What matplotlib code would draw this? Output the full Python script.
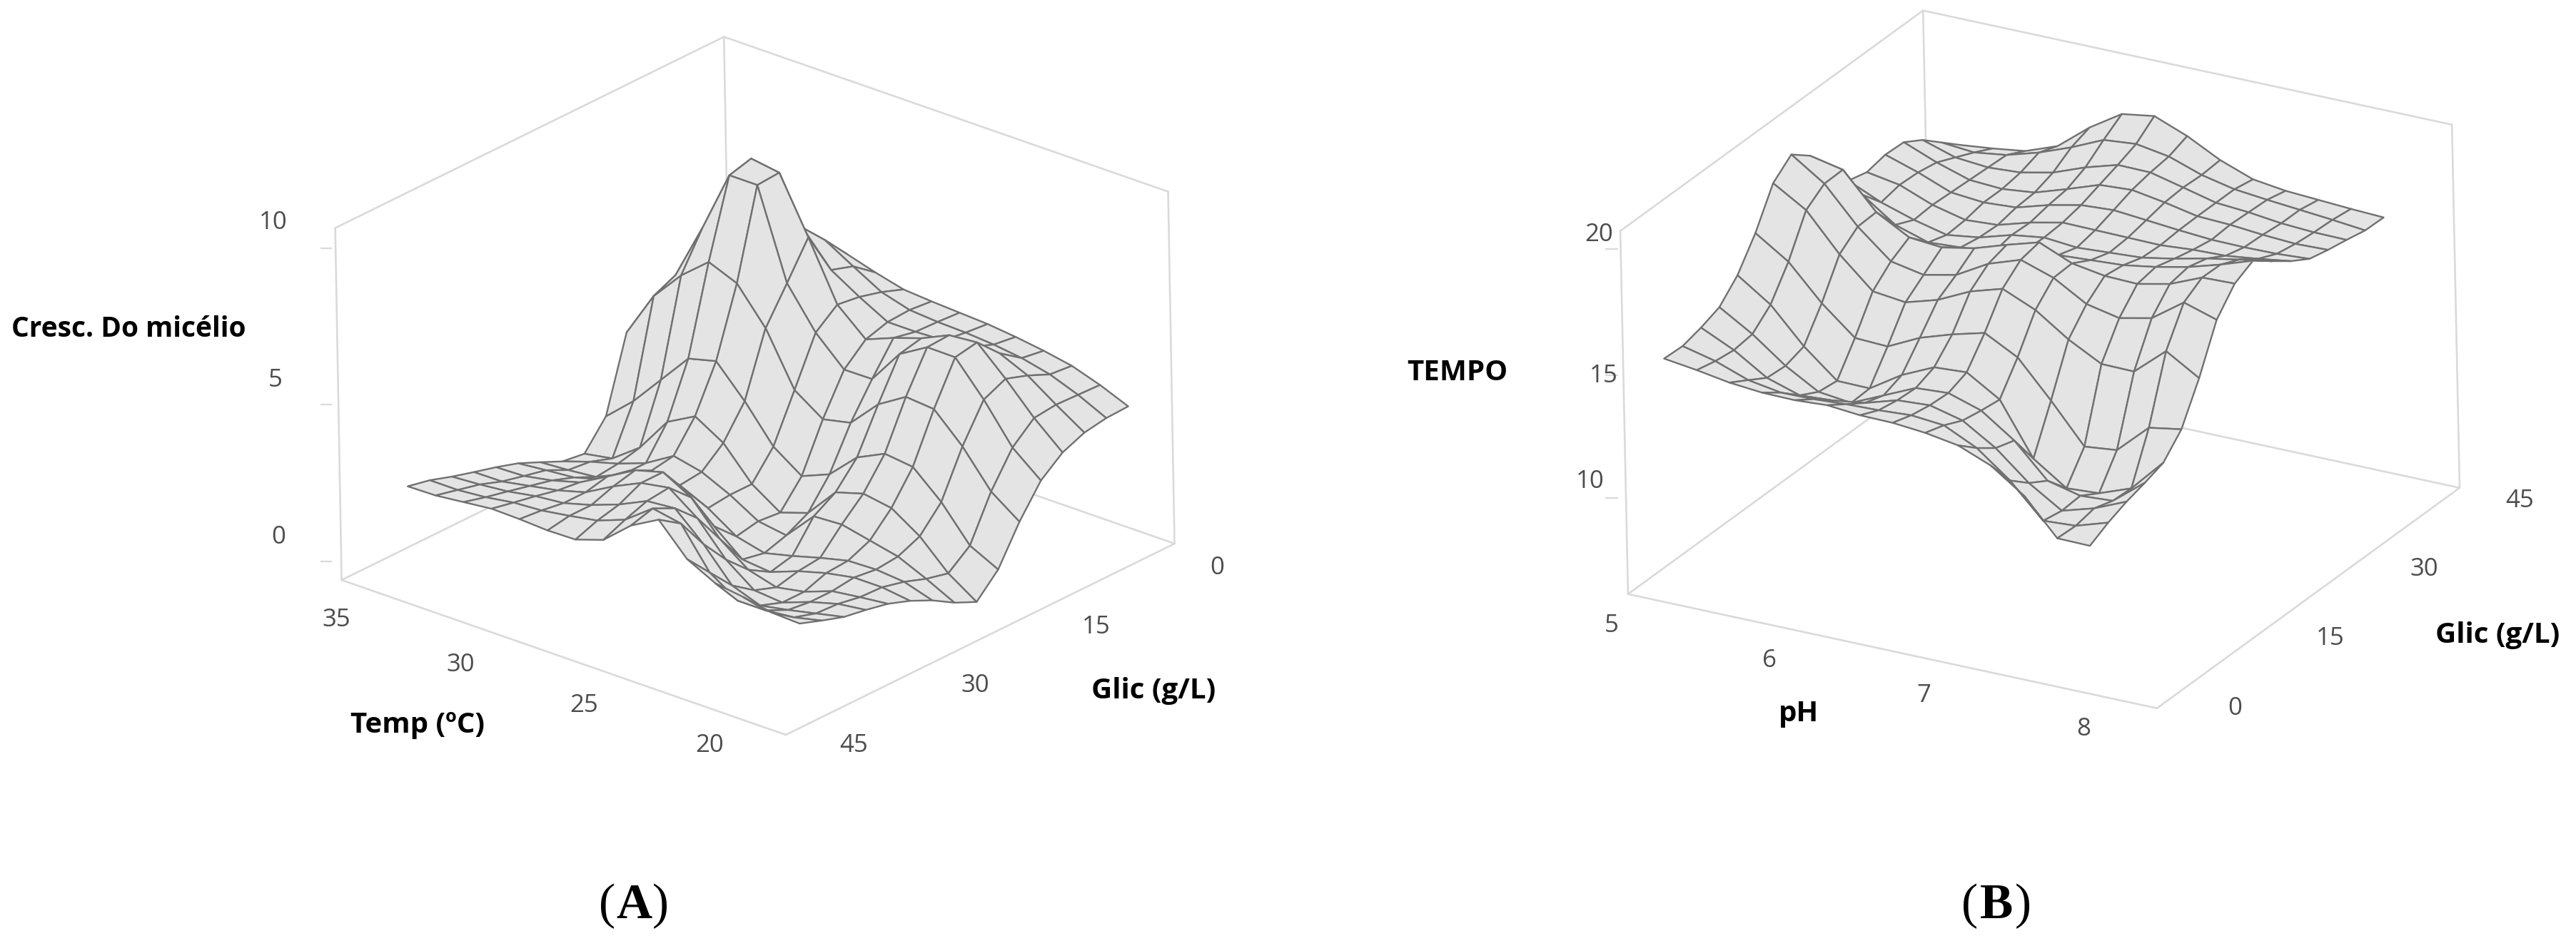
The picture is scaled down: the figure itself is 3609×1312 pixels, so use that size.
import numpy as np
import matplotlib
matplotlib.use("Agg")
import matplotlib.pyplot as plt
from matplotlib.lines import Line2D

FW, FH = 3609, 1312

# ---------- Panel A data: rows = glucose 0..45, columns = temperature 35..20
temp_a = np.linspace(35, 20, 15)
glic_a = np.linspace(0, 45, 16)
z_a = np.array([
 [3.03,3.90,5.41,6.58,6.61,6.34,6.11,6.04,5.99,5.94,5.84,5.71,5.54,5.24,4.87],
 [3.57,4.40,6.07,7.24,7.41,6.88,6.37,6.11,6.04,6.01,5.94,5.82,5.61,5.27,4.84],
 [4.23,5.07,6.58,8.67,8.15,7.11,6.56,6.07,6.07,6.11,6.21,6.32,5.92,5.30,4.72],
 [5.24,6.58,8.25,10.39,10.25,8.50,6.66,5.86,6.22,6.52,6.93,7.01,6.16,5.22,4.43],
 [5.07,6.39,8.21,10.20,10.20,7.38,6.11,5.24,5.25,6.36,6.89,6.88,5.84,4.62,3.88],
 [4.59,6.07,7.04,7.78,7.41,6.29,4.62,4.00,4.20,5.10,5.65,5.57,4.69,3.56,2.91],
 [2.26,3.06,4.05,5.04,5.27,4.30,3.16,2.53,2.90,3.75,4.18,4.07,3.26,2.18,1.73],
 [1.41,1.57,2.23,3.36,3.85,3.31,2.31,1.71,2.01,2.98,3.25,3.10,2.51,1.64,1.04],
 [1.51,1.81,2.06,2.39,2.93,2.73,2.31,1.78,1.64,2.56,2.61,2.41,2.21,1.81,1.36],
 [1.83,1.89,1.98,2.39,2.81,2.65,2.23,1.64,1.42,1.64,1.89,2.11,2.14,2.06,1.78],
 [2.14,2.23,2.31,2.56,3.15,3.40,3.15,2.31,1.56,1.47,1.81,2.06,2.23,2.23,2.11],
 [2.36,2.39,2.56,2.81,3.31,3.82,4.07,3.57,2.56,1.89,1.64,1.81,2.14,2.26,2.36],
 [2.55,2.56,2.73,2.90,3.15,3.65,4.07,4.23,3.57,2.56,1.89,1.81,2.14,2.39,2.51],
 [2.75,2.81,2.90,3.06,3.15,3.40,3.73,4.15,4.23,3.40,2.39,2.06,2.23,2.43,2.63],
 [2.98,2.98,3.06,3.20,3.26,3.40,3.56,3.90,4.57,4.40,3.15,2.56,2.56,2.65,2.86],
 [3.13,3.15,3.25,3.35,3.33,3.28,3.30,3.60,4.37,4.87,3.92,3.46,3.33,3.15,3.11],
])

# ---------- Panel B data: rows = glucose 0..45, columns = pH 5..8
ph_b = np.linspace(5, 8, 14)
glic_b = np.linspace(0, 45, 17)
z_b = np.array([
 [15.94,15.76,15.54,15.42,15.40,15.48,15.36,15.34,15.22,15.00,14.47,13.55,12.12,12.10],
 [15.90,15.58,15.10,14.88,14.90,14.98,15.02,15.10,14.98,14.35,13.33,12.00,12.08,12.49],
 [16.10,15.48,14.65,14.23,14.31,14.49,14.88,14.96,14.63,13.81,12.69,11.86,12.24,12.79],
 [16.38,15.58,14.59,13.83,13.67,14.25,14.83,14.91,14.49,13.57,12.24,11.92,12.00,13.01],
 [17.12,16.22,14.83,13.73,13.71,14.53,15.12,15.20,14.39,12.30,11.40,11.48,11.96,13.27],
 [18.27,17.40,16.02,14.91,14.85,15.48,15.90,16.24,15.54,14.09,12.53,12.67,13.85,14.07],
 [19.73,18.93,17.44,16.24,16.08,16.46,17.08,17.47,16.90,16.00,15.30,15.28,16.38,15.58],
 [20.34,19.45,18.01,16.90,16.64,16.92,17.65,18.09,17.65,16.88,16.60,16.88,17.79,17.38],
 [19.75,19.47,18.05,17.32,17.20,17.45,17.87,18.25,17.69,17.47,17.43,17.71,18.25,18.29],
 [18.55,17.93,17.00,16.58,16.66,16.74,17.12,17.20,17.28,17.36,17.57,17.85,18.23,18.67],
 [17.67,17.08,16.66,16.34,16.52,16.90,17.08,16.96,17.04,17.12,17.36,17.65,17.89,18.11],
 [17.47,17.24,16.72,16.40,16.48,16.86,17.14,17.12,17.10,17.08,17.18,17.22,17.38,17.57],
 [17.63,17.20,16.68,16.56,16.64,17.02,17.30,17.38,17.26,17.14,17.04,17.02,17.04,17.12],
 [17.59,17.06,16.64,16.56,16.70,17.12,17.57,17.65,17.43,17.16,17.10,16.98,16.90,16.94],
 [17.14,16.72,16.60,16.68,16.96,17.45,17.83,17.81,17.49,17.16,17.06,16.90,16.82,16.80],
 [16.50,16.38,16.56,16.94,17.43,18.01,18.13,17.91,17.45,17.16,17.02,16.90,16.78,16.64],
 [15.86,16.00,16.18,16.66,17.69,18.51,18.71,18.19,17.51,17.02,16.84,16.76,16.68,16.62],
])

ztick_a = ["10", "5", "0"]
xtick_a = ["35", "30", "25", "20"]
ytick_a = ["0", "15", "30", "45"]
ztick_b = ["20", "15", "10"]
xtick_b = ["5", "6", "7", "8"]
ytick_b = ["0", "15", "30", "45"]

plt.rcParams["font.family"] = ["Open Sans", "DejaVu Sans"]
fig = plt.figure(figsize=(FW / 100, FH / 100), dpi=100, facecolor="white")


def make_axes(left_b, front_b, right_b, left_t, right_t, xv_from, yv_from):
    """Orthographic 3D axes whose box corners land on the given pixel corners."""
    lb, fb, rb, lt, rt = [np.array([p[0], -p[1]], float) for p in (left_b, front_b, right_b, left_t, right_t)]
    zv = lt - lb
    rho = np.arctan2(-zv[0], zv[1])
    c, s = np.cos(rho), np.sin(rho)
    derot = lambda v: np.array([v[0] * c + v[1] * s, -v[0] * s + v[1] * c])
    xv = derot(xv_from(lb, fb, rb))
    yv = derot(yv_from(lb, fb, rb))
    zv = derot(zv)
    sin_el = np.sqrt(-(xv[1] * yv[1]) / (xv[0] * yv[0]))
    tan_az = np.sqrt(-(yv[1] / yv[0]) / (xv[1] / xv[0]))
    az = np.arctan2(-np.sign(xv[0]) * tan_az, np.sign(yv[0]))
    el = np.arcsin(sin_el)
    a = abs(xv[0] / np.sin(az))
    b = abs(yv[0] / np.cos(az))
    h = zv[1] / np.cos(el)
    norm = np.linalg.norm([a, b, h])
    W = norm * 1.85 / (1.8294640721620434 * 25 / 24)
    centre = (lb + rb + lt + rt) / 4
    x0 = centre[0] - 0.95 / 1.85 * W
    y0 = centre[1] + FH - 0.95 / 1.85 * W
    ax = fig.add_axes([x0 / FW, y0 / FH, W / FW, W / FH], projection="3d", proj_type="ortho")
    ax.set_box_aspect((a, b, h))
    ax.view_init(elev=np.degrees(el), azim=np.degrees(az), roll=np.degrees(rho))
    ax.set_axis_off()
    ax.patch.set_alpha(0)
    ax.computed_zorder = False
    return ax


def draw_box(ax, xl, yl, zl, floor, verticals, tops):
    kw = dict(color="#dadada", lw=1.9, zorder=1, solid_capstyle="round")
    for (p, q) in floor:
        ax.plot([p[0], q[0]], [p[1], q[1]], [zl[0], zl[0]], **kw)
    for p in verticals:
        ax.plot([p[0], p[0]], [p[1], p[1]], zl, **kw)
    for (p, q) in tops:
        ax.plot([p[0], q[0]], [p[1], q[1]], [zl[1], zl[1]], **kw)


SURF = dict(color="#e4e4e4", edgecolor="#707070", linewidth=1.7, shade=False,
            rstride=1, cstride=1, antialiased=True, zorder=2)


def put(x, y, s, **kw):
    fig.text(x / FW, 1 - y / FH, s, ha=kw.pop("ha", "center"), va=kw.pop("va", "center"), **kw)


TICK = dict(fontsize=25, color="#4d4d4d")
LAB = dict(fontsize=29, color="black", fontweight="bold")

# ---------- Panel A
axa = make_axes((478.6, 814), (1100.9, 1031), (1645.5, 763), (469.6, 320.6), (1636.6, 265.6),
                lambda l, f, r: l - f, lambda l, f, r: f - r)
xl, yl, zl = (20.61, 37.61), (-8.07, 45.0), (-0.62, 10.62)
axa.set_xlim(*xl, view_margin=0); axa.set_ylim(*yl, view_margin=0); axa.set_zlim(*zl, view_margin=0)
L, F, R, B = (xl[1], yl[1]), (xl[0], yl[1]), (xl[0], yl[0]), (xl[1], yl[0])
draw_box(axa, xl, yl, zl, [(L, F), (F, R), (R, B), (B, L)], [L, R, B], [(L, B), (B, R)])
TA, GA = np.meshgrid(temp_a, glic_a)
axa.plot_surface(TA, GA, z_a, **SURF)

for s, (x, y) in zip(ztick_a, [(383, 312), (386, 533), (390, 753)]):
    put(x, y, s, **TICK)
for s, (x, y) in zip(xtick_a, [(471, 869), (645, 932), (818, 989), (994, 1045)]):
    put(x, y, s, **TICK)
for s, (x, y) in zip(ytick_a, [(1705, 796), (1536, 879), (1366, 961), (1196, 1045)]):
    put(x, y, s, **TICK)
put(180, 462, "Cresc. Do micélio", **{**LAB, "fontsize": 28})
put(585, 1016, "Temp (ºC)", **LAB)
put(1616, 968, "Glic (g/L)", **LAB)
for y in (348, 567, 787):
    fig.add_artist(Line2D([450 / FW, 464 / FW], [1 - y / FH] * 2, color="#dadada", lw=1.6))

# ---------- Panel B
axb = make_axes((2280.4, 833), (3021.4, 993), (3445.5, 684), (2269.6, 324), (3436.6, 174),
                lambda l, f, r: f - l, lambda l, f, r: r - f)
xl, yl, zl = (4.708, 8.452), (0.0, 46.0), (6.14, 20.7)
axb.set_xlim(*xl, view_margin=0); axb.set_ylim(*yl, view_margin=0); axb.set_zlim(*zl, view_margin=0)
L, F, R, B = (xl[0], yl[0]), (xl[1], yl[0]), (xl[1], yl[1]), (xl[0], yl[1])
draw_box(axb, xl, yl, zl, [(L, F), (F, R), (R, B), (B, L)], [L, R, B], [(L, B), (B, R)])
PB, GB = np.meshgrid(ph_b, glic_b)
axb.plot_surface(PB, GB, z_b, **SURF)

for s, (x, y) in zip(ztick_b, [(2240, 329), (2247, 527), (2228, 675)]):
    put(x, y, s, **TICK)
for s, (x, y) in zip(xtick_b, [(2258, 877), (2479, 926), (2695, 975), (2919, 1022)]):
    put(x, y, s, **TICK)
for s, (x, y) in zip(ytick_b, [(3131, 993), (3265, 895), (3396, 798), (3530, 702)]):
    put(x, y, s, **TICK)
put(2042, 522, "TEMPO", **LAB)
put(2520, 1000, "pH", **LAB)
put(3499, 891, "Glic (g/L)", **LAB)
for y in (349, 526, 698):
    fig.add_artist(Line2D([2250 / FW, 2266 / FW], [1 - y / FH] * 2, color="#dadada", lw=1.6))

# ---------- Panel captions
CAP = dict(fontsize=50, color="black", family="Liberation Serif", va="baseline")
for cx, s in ((888, "A"), (2797, "B")):
    put(cx, 1287, s, fontweight="bold", ha="center", **CAP)
    put(cx - 26, 1287, "(", ha="right", **CAP)
    put(cx + 26, 1287, ")", ha="left", **CAP)

fig.savefig("out.png", dpi=100, facecolor="white")
